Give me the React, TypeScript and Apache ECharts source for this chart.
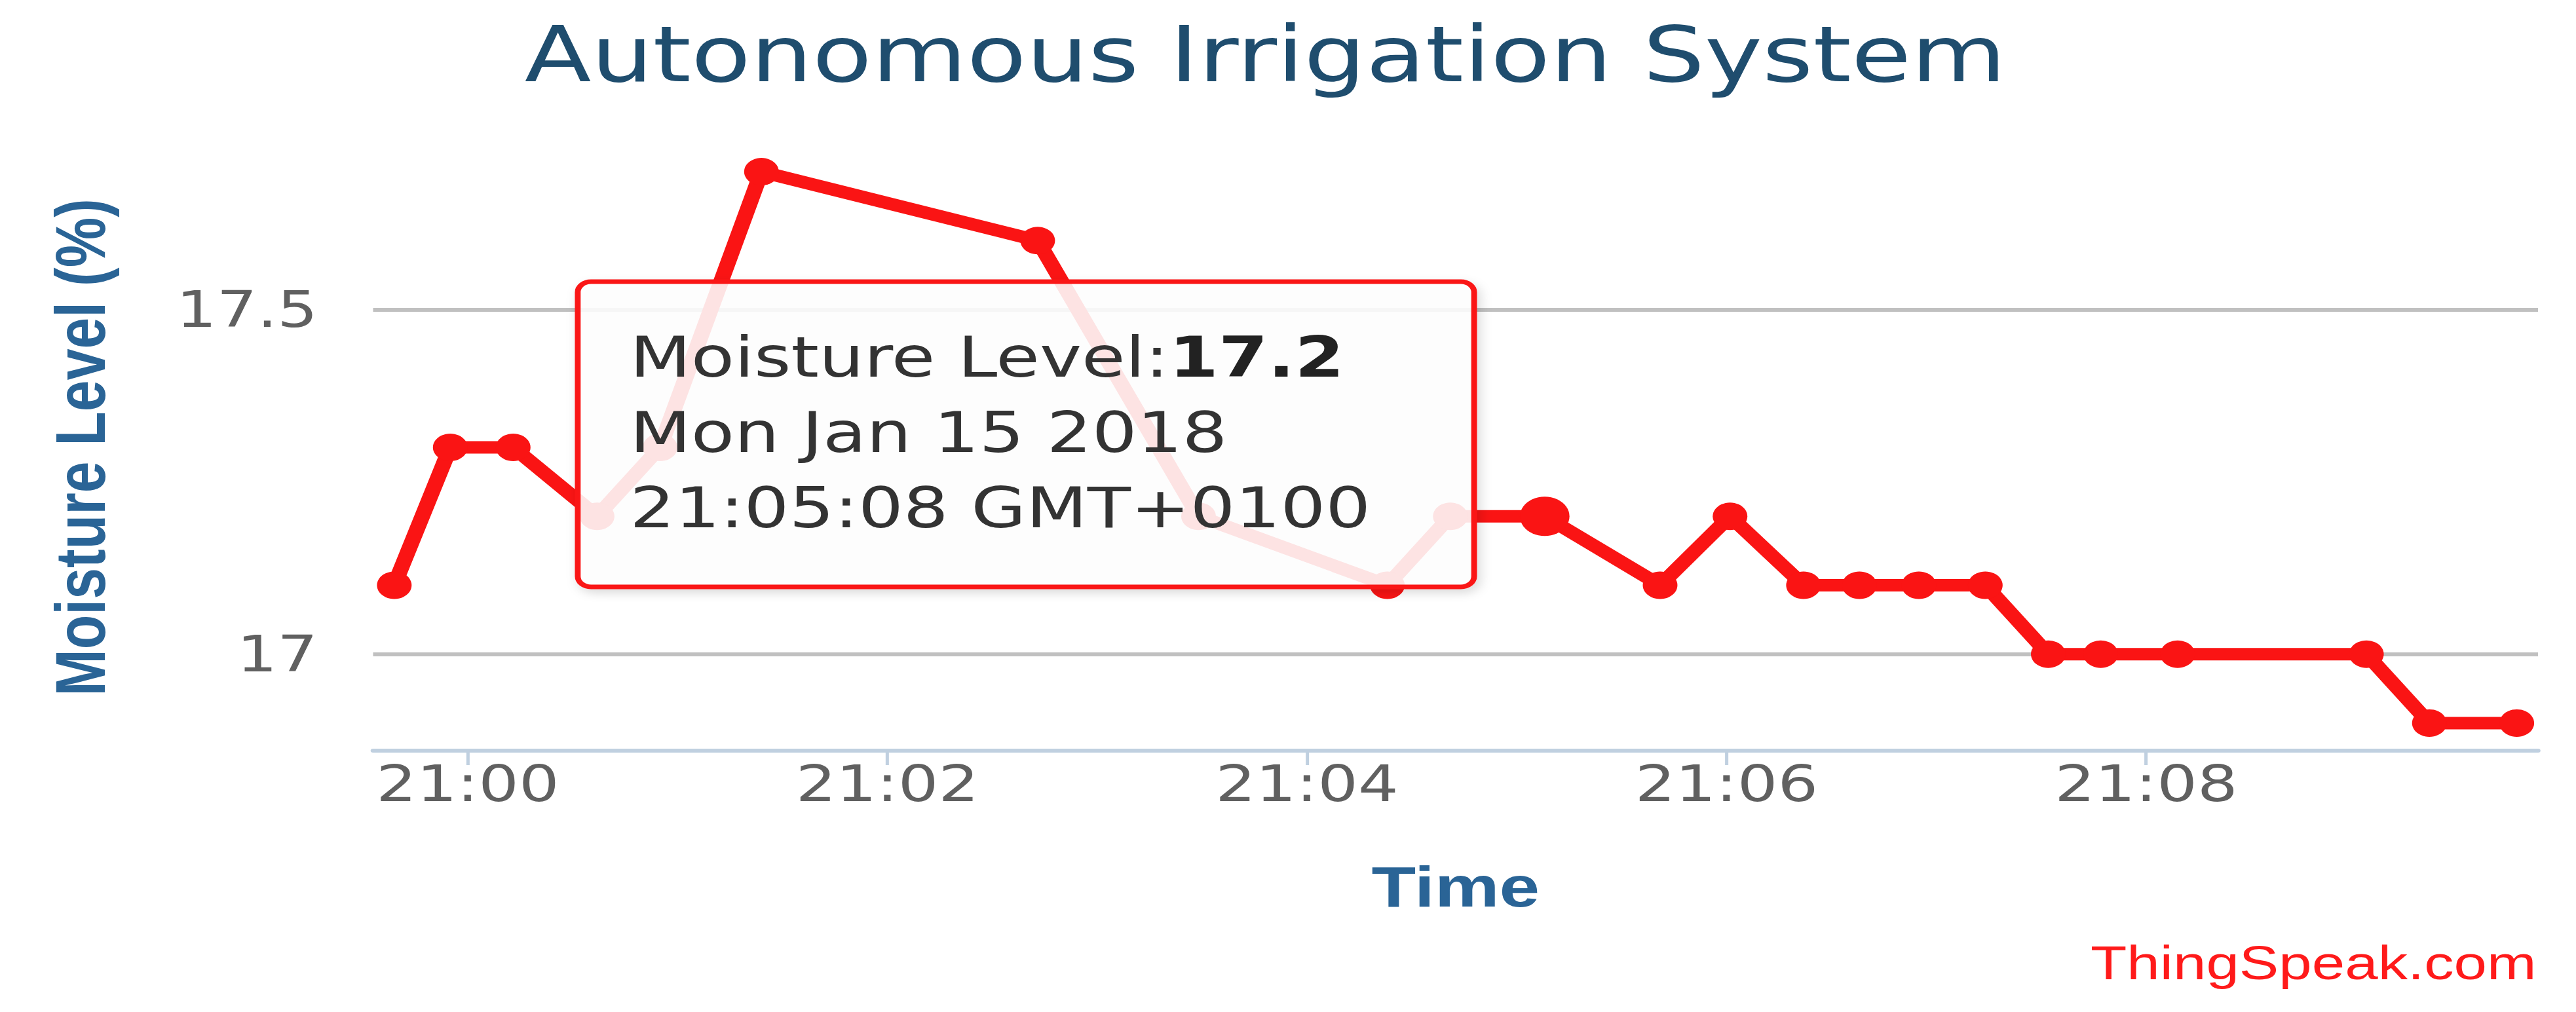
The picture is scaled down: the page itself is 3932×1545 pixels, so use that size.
import React, { useEffect, useRef } from "react";
import * as echarts from "echarts";

// ---- data ----
const times = [
  "20:59:39", "20:59:55", "21:00:13", "21:00:37", "21:00:55", "21:01:24",
  "21:02:43", "21:03:29", "21:04:23", "21:04:41", "21:05:08", "21:05:41",
  "21:06:01", "21:06:22", "21:06:38", "21:06:55", "21:07:14", "21:07:32",
  "21:07:47", "21:08:09", "21:09:03", "21:09:21", "21:09:46",
];
const moisture = [
  17.1, 17.3, 17.3, 17.2, 17.3, 17.7,
  17.6, 17.2, 17.1, 17.2, 17.2, 17.1,
  17.2, 17.1, 17.1, 17.1, 17.1, 17.0,
  17.0, 17.0, 17.0, 16.9, 16.9,
];
const xTickLabels = ["21:00", "21:02", "21:04", "21:06", "21:08"];
const yTickValues = [17, 17.5];
const hoverIndex = 10;
const hoverDate = "Mon Jan 15 2018";
const hoverZone = "GMT+0100";
const chartTitle = "Autonomous Irrigation System";
const seriesName = "Moisture Level";
const xName = "Time";
const yName = "Moisture Level (%)";
const credit = "ThingSpeak.com";

// ---- layout (chart is drawn unstretched, then stretched horizontally like the reference) ----
const W = 3121;
const H = 1545;
const STRETCH = 3932 / W;
const RED = "#fa1414";

const toSec = (s: string) => {
  const p = s.split(":").map(Number);
  return p[0] * 3600 + p[1] * 60 + (p[2] || 0);
};
const pad2 = (n: number) => (n < 10 ? "0" + n : "" + n);
const fmtHM = (sec: number) => pad2(Math.floor(sec / 3600)) + ":" + pad2(Math.floor((sec % 3600) / 60));

export default function App() {
  const ref = useRef<HTMLDivElement>(null);

  useEffect(() => {
    if (!ref.current) return;
    const chart = echarts.init(ref.current, null, { renderer: "svg", width: W, height: H });

    const xs = times.map(toSec);
    const xSpan = xs[xs.length - 1] - xs[0];
    const xMin = xs[0] - 0.01 * xSpan;
    const xMax = xs[xs.length - 1] + 0.01 * xSpan;
    const yLo = Math.min(...moisture);
    const yHi = Math.max(...moisture);
    const yMin = yLo - 0.05 * (yHi - yLo);
    const yMax = yHi + 0.05 * (yHi - yLo);
    const xTickValues = xTickLabels.map((l) => toSec(l + ":00"));

    const data = xs.map((x, i) =>
      i === hoverIndex
        ? { value: [x, moisture[i]], symbolSize: 60 }
        : { value: [x, moisture[i]] }
    );

    const tipText =
      "{n|" + seriesName + ":}{b|" + moisture[hoverIndex].toFixed(1) + "}\n" +
      "{n|" + hoverDate + "}\n" +
      "{n|" + times[hoverIndex] + " " + hoverZone + "}";

    const tipFont = { fontFamily: "DejaVu Sans", fontSize: 86, lineHeight: 115 };

    const option: any = {
      animation: false,
      backgroundColor: "#ffffff",
      title: {
        text: chartTitle,
        left: 1533,
        top: 24,
        textAlign: "center",
        padding: 0,
        textStyle: {
          fontFamily: "DejaVu Sans",
          fontSize: 118,
          fontWeight: "normal",
          color: "#1f4d6e",
        },
      },
      grid: { left: 452, right: 46, top: 220, bottom: 399, containLabel: false },
      xAxis: {
        type: "value",
        min: xMin,
        max: xMax,
        name: xName,
        nameLocation: "middle",
        nameGap: 207,
        nameTextStyle: {
          fontFamily: "Liberation Sans",
          fontWeight: "bold",
          fontSize: 88,
          color: "#2a6496",
          verticalAlign: "middle",
        },
        axisLine: { show: true, lineStyle: { color: "#c0d0e0", width: 6 } },
        axisTick: {
          show: true,
          length: 22,
          customValues: xTickValues,
          lineStyle: { color: "#c0d0e0", width: 4 },
        },
        axisLabel: {
          customValues: xTickValues,
          formatter: (v: number) => fmtHM(v),
          margin: 12,
          fontFamily: "DejaVu Sans",
          fontSize: 77,
          color: "#606060",
        },
        splitLine: { show: false },
      },
      yAxis: {
        type: "value",
        min: yMin,
        max: yMax,
        name: yName,
        nameLocation: "middle",
        nameRotate: 90,
        nameGap: 355,
        nameTextStyle: {
          fontFamily: "Liberation Sans",
          fontWeight: "bold",
          fontSize: 86,
          color: "#2a6496",
          verticalAlign: "middle",
        },
        axisLine: { show: false },
        axisTick: { show: false, customValues: yTickValues },
        axisLabel: {
          customValues: yTickValues,
          margin: 67,
          fontFamily: "DejaVu Sans",
          fontSize: 77,
          color: "#606060",
        },
        splitLine: { show: true, lineStyle: { color: "#c0c0c0", width: 6 } },
      },
      series: [
        {
          name: seriesName,
          type: "line",
          data,
          symbol: "circle",
          symbolSize: 42,
          showAllSymbol: true,
          lineStyle: { color: RED, width: 19 },
          itemStyle: { color: RED },
          emphasis: { disabled: true },
          silent: true,
          z: 2,
        },
      ],
      graphic: [
        {
          type: "rect",
          z: 100,
          shape: { x: 700, y: 430, width: 1086, height: 466, r: 16 },
          style: {
            fill: "rgba(255,255,255,0.87)",
            stroke: RED,
            lineWidth: 7,
            shadowBlur: 14,
            shadowOffsetX: 4,
            shadowOffsetY: 6,
            shadowColor: "rgba(0,0,0,0.15)",
          },
        },
        {
          type: "text",
          z: 101,
          x: 763,
          y: 660,
          style: {
            text: tipText,
            fontFamily: "DejaVu Sans",
            fontSize: 86,
            lineHeight: 115,
            fill: "#333333",
            align: "left",
            verticalAlign: "middle",
            rich: {
              n: { ...tipFont, fill: "#333333", color: "#333333" },
              b: { ...tipFont, fontWeight: "bold", fill: "#222222", color: "#222222" },
            },
          },
        },
        {
          type: "text",
          z: 100,
          x: 3073,
          y: 1470,
          style: {
            text: credit,
            fontFamily: "Liberation Sans",
            fontSize: 72,
            fill: "#ff1a1a",
            align: "right",
            verticalAlign: "middle",
          },
        },
      ],
    };

    chart.setOption(option);
    return () => chart.dispose();
  }, []);

  return (
    <div
      ref={ref}
      style={{
        position: "fixed",
        left: 0,
        top: 0,
        width: W + "px",
        height: H + "px",
        background: "#ffffff",
        transform: `scaleX(${STRETCH})`,
        transformOrigin: "0 0",
      }}
    />
  );
}
